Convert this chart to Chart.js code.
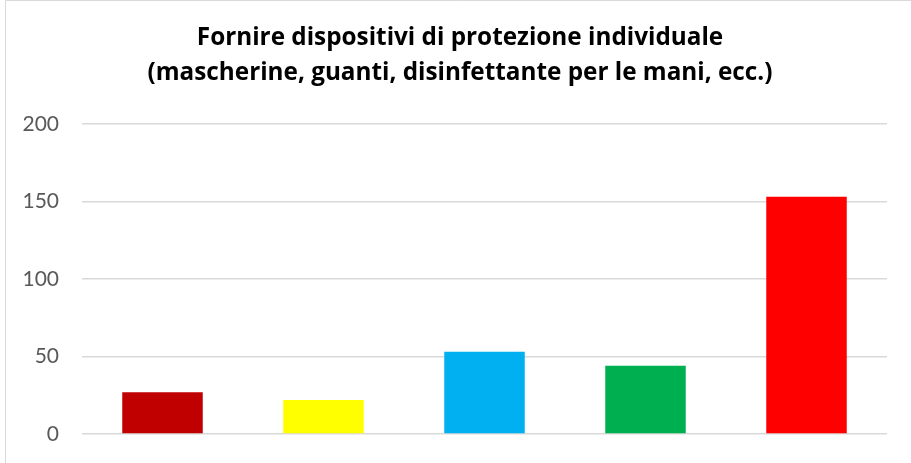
<!DOCTYPE html>
<html>
<head>
<meta charset="utf-8">
<script src="https://cdn.jsdelivr.net/npm/chart.js@4/dist/chart.umd.min.js"></script>
<style>
html,body{margin:0;padding:0;background:#fff;}
#wrap{position:absolute;left:0;top:0;width:911px;height:463px;}
</style>
</head>
<body>
<div id="wrap"><canvas id="c" width="911" height="463"></canvas></div>
<script>
const categories = ["1", "2", "3", "4", "5"];
const values = [27, 22, 53, 44, 153];
const barColors = ["#C00000", "#FFFF00", "#00B0F0", "#00B050", "#FF0000"];
const titleLines = ["Fornire dispositivi di protezione individuale", "(mascherine, guanti, disinfettante per le mani, ecc.)"];
const yMin = 0, yMax = 200, yStep = 50;

const frame = {
  id: 'frame',
  afterLayout(chart) {
    const t = chart.titleBlock;
    if (t) {
      t.left = 9;
      t.right = chart.width;
      t.width = t.right - t.left;
    }
  },
  beforeDraw(chart) {
    const ctx = chart.ctx;
    ctx.save();
    ctx.fillStyle = '#fff';
    ctx.fillRect(0, 0, chart.width, chart.height);
    ctx.strokeStyle = '#d9d9d9';
    ctx.lineWidth = 1;
    ctx.beginPath();
    ctx.moveTo(5.5, chart.height);
    ctx.lineTo(5.5, 0.5);
    ctx.lineTo(chart.width, 0.5);
    ctx.stroke();
    ctx.restore();
  }
};

new Chart(document.getElementById('c'), {
  type: 'bar',
  data: {
    labels: categories,
    datasets: [{
      data: values,
      backgroundColor: barColors,
      borderWidth: 0,
      barPercentage: 0.5,
      categoryPercentage: 1.0
    }]
  },
  options: {
    responsive: false,
    maintainAspectRatio: false,
    animation: false,
    layout: { padding: { left: 0, right: 24, top: 0, bottom: 29 } },
    plugins: {
      legend: { display: false },
      tooltip: { enabled: false },
      title: {
        display: true,
        text: titleLines,
        color: '#000',
        font: { family: 'Open Sans', size: 24.3, weight: 'bold', lineHeight: 1.44 },
        padding: { top: 21, bottom: 33 }
      }
    },
    scales: {
      x: {
        display: false
      },
      y: {
        min: yMin, max: yMax,
        ticks: {
          stepSize: yStep,
          color: '#595959',
          font: { family: 'Lato', size: 21 },
          padding: 23
        },
        grid: { color: '#d9d9d9', lineWidth: 1.5, drawTicks: false },
        border: { display: false },
        afterFit(scale) {
          scale.width = 82;
          scale.paddingTop = 0;
          scale.paddingBottom = 0;
        }
      }
    }
  },
  plugins: [frame]
});
</script>
</body>
</html>
